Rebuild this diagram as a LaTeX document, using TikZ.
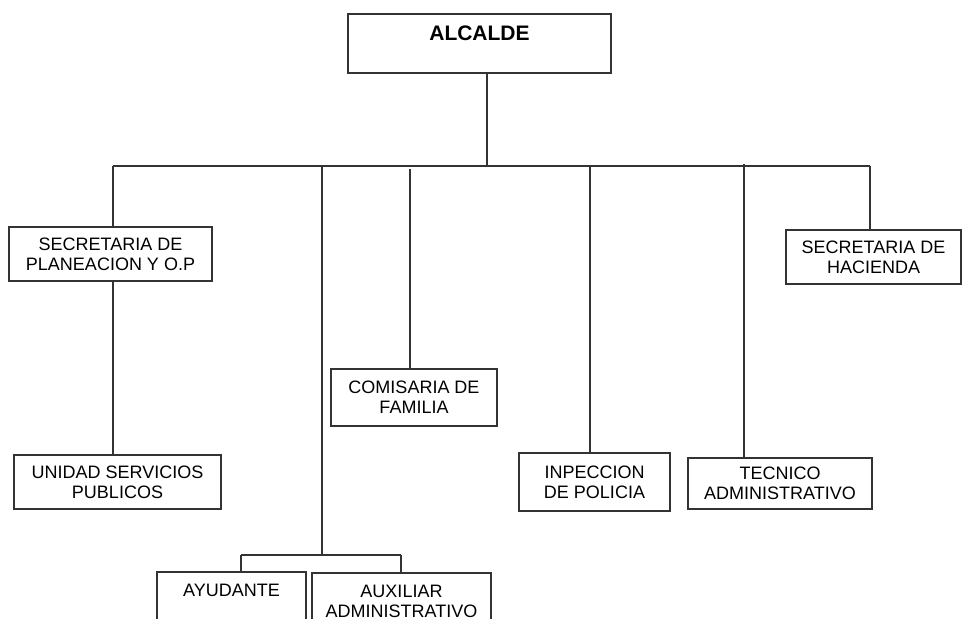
\documentclass[tikz,border=0pt]{standalone}
\usepackage{fontspec}
\setmainfont{Liberation Sans}
\begin{document}
\begin{tikzpicture}[x=1pt,y=-1pt]
	\tikzset{
	unit/.style={draw=black!80, line width=1.2pt, align=center, inner sep=0pt, font=\fontsize{18}{20}\selectfont},
	link/.style={draw=black!80, line width=1.2pt}}

	\clip (0,0) rectangle (963,618);
	\fill[white] (0,0) rectangle (963,618);

	%head
	\node[unit, minimum width=263, minimum height=59, font=\bfseries\fontsize{21}{20}\selectfont] (alcalde) at (479.5,43.5) {ALCALDE\\ \mbox{}};

	%first level
	\node[unit, minimum width=203, minimum height=54] (planeacion) at (110.5,254) {SECRETARIA DE\\PLANEACION Y O.P};
	\node[unit, minimum width=166, minimum height=57] (comisaria) at (414,397.5) {COMISARIA DE\\FAMILIA};
	\node[unit, minimum width=151, minimum height=58] (inspeccion) at (594.5,482) {INPECCION\\DE POLICIA};
	\node[unit, minimum width=184, minimum height=51] (tecnico) at (780,483.5) {TECNICO\\ADMINISTRATIVO};
	\node[unit, minimum width=175, minimum height=54] (hacienda) at (873.5,257) {SECRETARIA DE\\HACIENDA};

	%second level
	\node[unit, minimum width=207, minimum height=54] (servicios) at (117.5,482) {UNIDAD SERVICIOS\\PUBLICOS};
	\node[unit, minimum width=149, minimum height=56] (ayudante) at (231.5,600) {AYUDANTE\\ \mbox{}};
	\node[unit, minimum width=179, minimum height=56] (auxiliar) at (401.5,601) {AUXILIAR\\ADMINISTRATIVO};

	%bus
	\coordinate (mid) at (487,166);
	\coordinate (west) at (113,166);
	\coordinate (east) at (870,166);
	\coordinate (staff) at (322,166);
	\coordinate (fam) at (410,169);
	\coordinate (pol) at (590,166);
	\coordinate (tec) at (744,164);
	\coordinate (fork) at (322,555);
	\coordinate (forkl) at (241,555);
	\coordinate (forkr) at (401,555);

	\draw[link] (alcalde.south -| mid) -- (mid);
	\draw[link] (west) -- (east);

	\draw[link] (west) -- (west |- planeacion.north);
	\draw[link] (planeacion.south -| west) -- (west |- servicios.north);
	\draw[link] (fam) -- (fam |- comisaria.north);
	\draw[link] (pol) -- (pol |- inspeccion.north);
	\draw[link] (tec) -- (tec |- tecnico.north);
	\draw[link] (east) -- (east |- hacienda.north);

	%staff
	\draw[link] (staff) -- (fork);
	\draw[link] (forkl) -- (forkr);
	\draw[link] (forkl) -- (forkl |- ayudante.north);
	\draw[link] (forkr) -- (forkr |- auxiliar.north);

\end{tikzpicture}
\end{document}
